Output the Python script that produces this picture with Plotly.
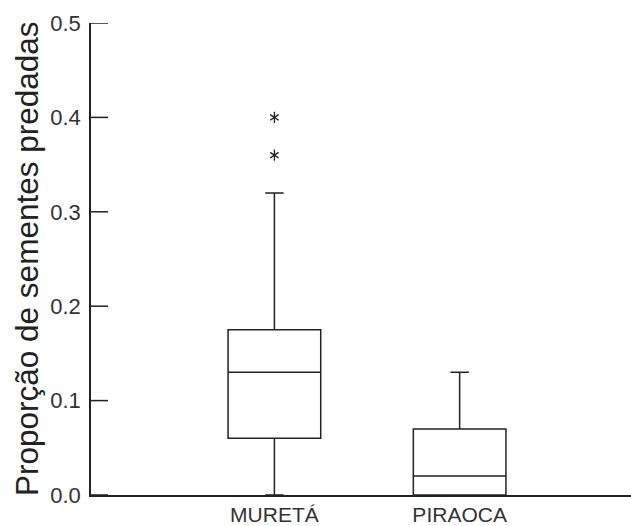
import plotly.graph_objects as go

# Seed predation proportion per site (box summary statistics)
sites = ["MURETÁ", "PIRAOCA"]
q1 = [0.06, 0.0]
median = [0.13, 0.02]
q3 = [0.175, 0.07]
lower_fence = [0.0, 0.0]
upper_fence = [0.32, 0.13]

# Outlying values drawn as asterisks
outlier_sites = ["MURETÁ", "MURETÁ"]
outlier_values = [0.36, 0.40]

y_ticks = [0.0, 0.1, 0.2, 0.3, 0.4, 0.5]
y_tick_text = ["0.0", "0.1", "0.2", "0.3", "0.4", "0.5"]

INK = "#222222"
FONT = "Liberation Sans, Arial, sans-serif"

fig = go.Figure()

fig.add_trace(go.Box(
    x=sites,
    q1=q1,
    median=median,
    q3=q3,
    lowerfence=lower_fence,
    upperfence=upper_fence,
    width=0.5,
    whiskerwidth=0.2,
    boxpoints=False,
    fillcolor="rgba(0,0,0,0)",
    line=dict(color=INK, width=1.5),
    showlegend=False,
))

# six-armed asterisk built from two overlaid three-armed markers
for sym in ("y-up-open", "y-down-open"):
    fig.add_trace(go.Scatter(
        x=outlier_sites,
        y=outlier_values,
        mode="markers",
        marker=dict(symbol=sym, size=7, color=INK,
                    line=dict(color=INK, width=1.3)),
        showlegend=False,
        hoverinfo="skip",
    ))

# inward tick marks along the y axis
for v in y_ticks:
    fig.add_shape(
        type="line",
        xref="x domain", yref="y",
        x0=0, x1=17 / 540, y0=v, y1=v,
        line=dict(color=INK, width=1.5),
        layer="above",
    )

fig.update_layout(
    width=631,
    height=526,
    margin=dict(l=91, r=0, t=23, b=31, autoexpand=False),
    plot_bgcolor="white",
    paper_bgcolor="white",
    font=dict(family=FONT, color=INK),
    xaxis=dict(
        type="category",
        range=[-0.99, 1.925],
        automargin=False,
        showline=True,
        linecolor=INK,
        linewidth=1.5,
        ticks="",
        showgrid=False,
        zeroline=False,
        tickfont=dict(size=21, family=FONT, color="#333333"),
        ticklabelstandoff=0,
    ),
    yaxis=dict(
        range=[0, 0.5],
        automargin=False,
        tickmode="array",
        tickvals=y_ticks,
        ticktext=y_tick_text,
        ticks="",
        showline=True,
        linecolor=INK,
        linewidth=1.5,
        showgrid=False,
        zeroline=False,
        tickfont=dict(size=22, family=FONT, color="#333333"),
        ticklabelstandoff=4,
    ),
    annotations=[dict(
        text="Proporção de sementes predadas",
        xref="paper", yref="paper",
        x=0, y=0.5,
        xshift=-64,
        xanchor="center", yanchor="middle",
        textangle=-90,
        showarrow=False,
        font=dict(size=31.5, family=FONT, color="#222222"),
    )],
)

fig.write_html("out.html")
